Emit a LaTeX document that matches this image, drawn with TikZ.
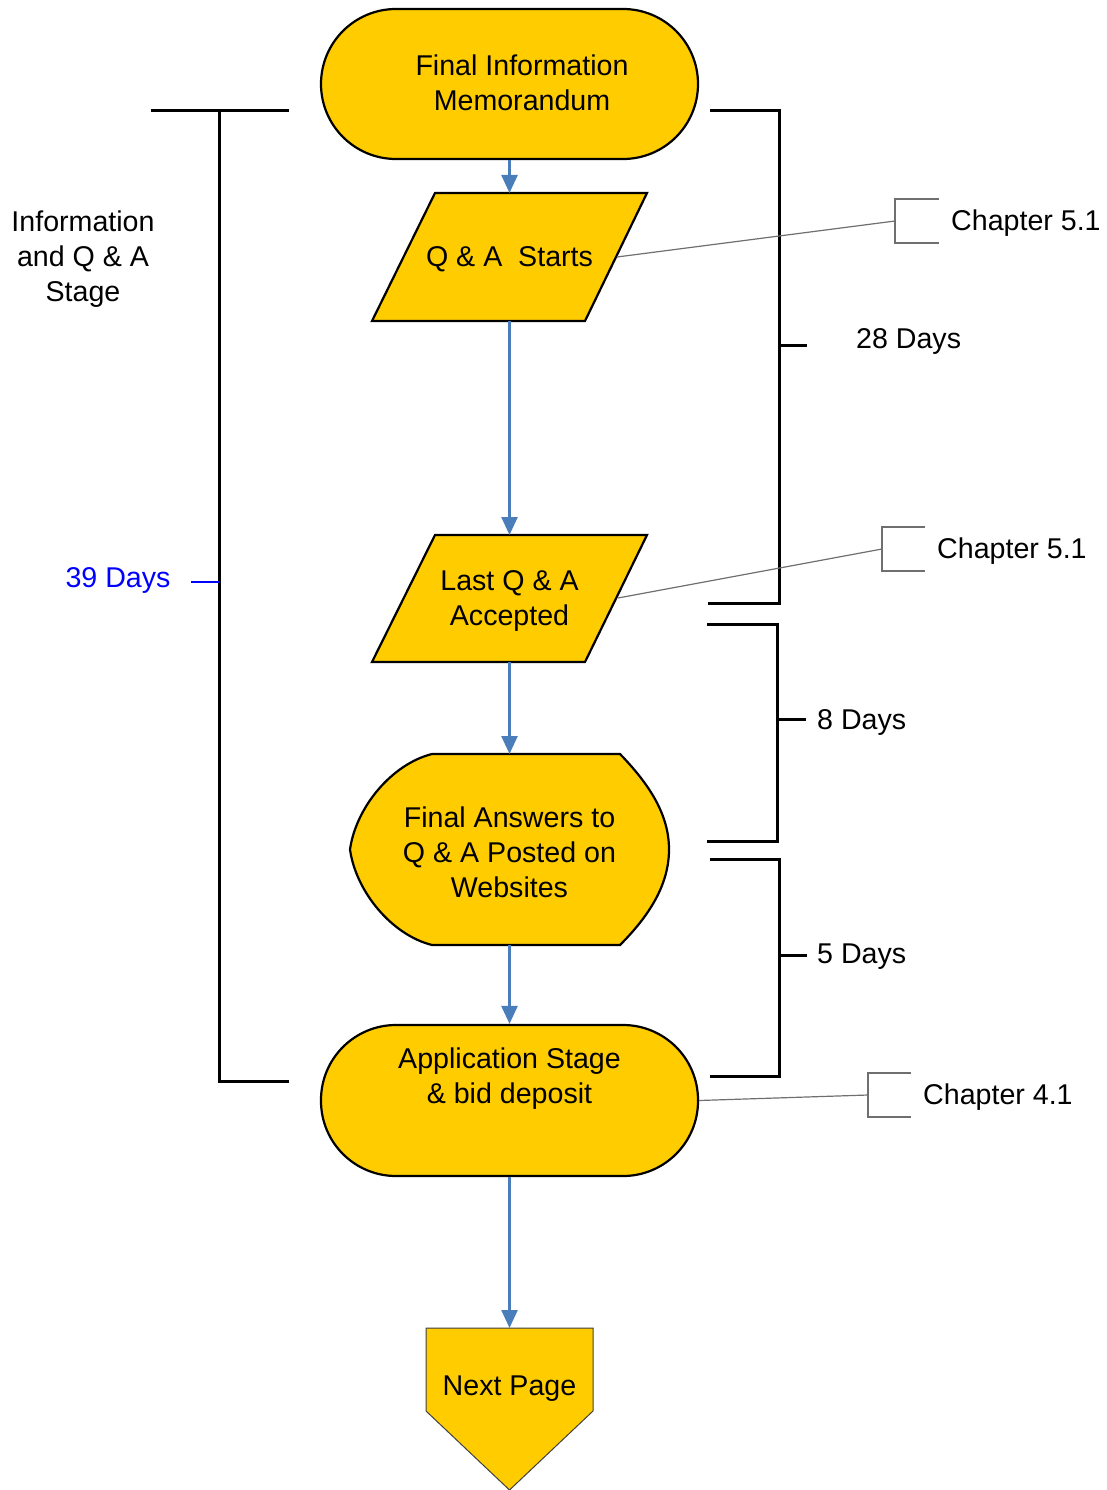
\documentclass[tikz,border=0pt]{standalone}
\usepackage{fontspec}
\setmainfont{Liberation Sans}
\usetikzlibrary{arrows.meta}
\definecolor{gold}{HTML}{FFCC00}
\definecolor{arrowblue}{HTML}{4A7EBB}
\definecolor{notegray}{HTML}{6F6F6F}
\definecolor{daysblue}{HTML}{0000FF}
\begin{document}
\begin{tikzpicture}[x=1pt,y=-1pt,
  shapeline/.style={draw=black,line width=2.2pt,fill=gold},
  frame/.style={draw=black,line width=3pt},
  flow/.style={draw=arrowblue,line width=2.5pt,-{Triangle[length=18pt,width=16pt]}},
  note/.style={draw=notegray,line width=1.2pt},
  txt/.style={font=\fontsize{28.6}{35}\selectfont,align=center,inner sep=0pt},
  ltxt/.style={font=\fontsize{28.6}{35}\selectfont,align=left,inner sep=0pt,anchor=west},
  ghost/.style={inner sep=0pt,outer sep=0pt,minimum width=#1}]
\useasboundingbox (0,0) rectangle (1107,1490);

% ---------- shapes ----------
\node[shapeline,rounded corners=75pt,minimum width=377pt,minimum height=150pt,inner sep=0pt] (fim) at (509.5,84) {};
\node[txt] (fimt) at (522,83) {Final Information\\Memorandum};

\node[ghost=275pt,minimum height=128pt] (qa) at (509.5,257) {};
\draw[shapeline] (435,193) -- (647,193) -- (585,321) -- (372,321) -- cycle;
\node[txt] (qat) at (509.5,259) {Q \& A\ \ Starts};

\node[ghost=275pt,minimum height=127pt] (lqa) at (509.5,598.5) {};
\draw[shapeline] (435,535) -- (647,535) -- (585,662) -- (372,662) -- cycle;
\node[txt] (lqat) at (509.5,601) {Last Q \& A\\Accepted};

\node[ghost=319pt,minimum height=191pt] (fa) at (509.5,849.5) {};
\draw[shapeline] (432,754) -- (620,754)
  .. controls (650,785) and (669,815) .. (669,849.5)
  .. controls (669,884) and (650,915) .. (620,945)
  -- (432,945)
  .. controls (392,935) and (356,892) .. (350,849.5)
  .. controls (356,807) and (392,764) .. (432,754) -- cycle;
\node[txt] (fat) at (509.5,852) {Final Answers to\\Q \& A Posted on\\Websites};

\node[shapeline,rounded corners=75pt,minimum width=377pt,minimum height=151pt,inner sep=0pt] (app) at (509.5,1100.5) {};
\node[txt] (appt) at (509.5,1079) {Application Stage\\\& bid deposit};

\node[ghost=167pt,minimum height=162pt] (np) at (509.5,1409) {};
\draw[fill=gold,draw=black!75,line width=1pt] (426,1328) -- (593,1328) -- (593,1411) -- (509.5,1490) -- (426,1411) -- cycle;
\node[txt] (npt) at (509.5,1389) {Next Page};

% ---------- flow arrows ----------
\draw[flow] (fim.south) -- (qa.north);
\draw[flow] (qa.south) -- (lqa.north);
\draw[flow] (lqa.south) -- (fa.north);
\draw[flow] (fa.south) -- (app.north);
\draw[flow] (app.south) -- (np.north);

% ---------- left bracket ----------
\coordinate (lt1) at (151,111);
\coordinate (lt2) at (289,111);
\coordinate (lv1) at (219,111);
\coordinate (lv2) at (219,1081);
\coordinate (lb2) at (289,1081);
\coordinate (ltick) at (219,582);
\coordinate (ltick0) at (191,582);
\draw[frame] (lt1) -- (lt2);
\draw[frame] (lv1) -- (lv2) -- (lb2);
\draw[draw=daysblue,line width=2.2pt] (ltick0) -- (ltick);
\node[txt] (stage) at (83,259) {Information\\and Q \& A\\Stage};
\node[txt,text=daysblue] (d39) at (118,580) {39 Days};

% ---------- right brackets ----------
\coordinate (r1a) at (710,111);
\coordinate (r1b) at (779,111);
\coordinate (r1c) at (779,603);
\coordinate (r1d) at (708,603);
\coordinate (r1t) at (779,345);
\coordinate (r1e) at (807,345);
\draw[frame] (r1a) -- (r1b) -- (r1c) -- (r1d);
\draw[frame] (r1t) -- (r1e);
\node[ltxt] (d28) at (856,341) {28 Days};

\coordinate (r2a) at (707,624);
\coordinate (r2b) at (777,624);
\coordinate (r2c) at (777,841);
\coordinate (r2d) at (707,841);
\coordinate (r2t) at (777,719);
\coordinate (r2e) at (806,719);
\draw[frame] (r2a) -- (r2b) -- (r2c) -- (r2d);
\draw[frame] (r2t) -- (r2e);
\node[ltxt] (d8) at (817,722) {8 Days};

\coordinate (r3a) at (710,859);
\coordinate (r3b) at (779,859);
\coordinate (r3c) at (779,1076);
\coordinate (r3d) at (710,1076);
\coordinate (r3t) at (779,955);
\coordinate (r3e) at (807,955);
\draw[frame] (r3a) -- (r3b) -- (r3c) -- (r3d);
\draw[frame] (r3t) -- (r3e);
\node[ltxt] (d5) at (817,957) {5 Days};

% ---------- chapter notes ----------
\coordinate (n1s) at (617,257);
\coordinate (n1m) at (895,221);
\draw[note] (n1s) -- (n1m);
\draw[note] (939,199) -- (895,199) -- (895,243) -- (939,243);
\node[ltxt] (c1) at (951,223) {Chapter 5.1};

\coordinate (n2s) at (618,598);
\coordinate (n2m) at (882,549);
\draw[note] (n2s) -- (n2m);
\draw[note] (925,527) -- (882,527) -- (882,571) -- (925,571);
\node[ltxt] (c2) at (937,551) {Chapter 5.1};

\coordinate (n3s) at (app.east);
\coordinate (n3m) at (868,1095);
\draw[note] (n3s) -- (n3m);
\draw[note] (911,1073) -- (868,1073) -- (868,1117) -- (911,1117);
\node[ltxt] (c3) at (923,1097) {Chapter 4.1};
\end{tikzpicture}
\end{document}
